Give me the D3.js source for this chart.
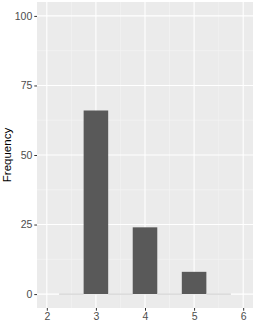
<!DOCTYPE html>
<html><head><meta charset="utf-8">
<script src="https://cdn.jsdelivr.net/npm/d3@7"></script>
<style>body{margin:0;background:#fff}svg{display:block}text{font-family:"Liberation Sans",Arial,sans-serif}</style>
</head><body>
<script>
const binStarts = [2.25, 2.75, 3.25, 3.75, 4.25, 4.75, 5.25];
const binWidth = 0.5;
const counts = [0, 66, 0, 24, 0, 8, 0];
const xTicks = [2, 3, 4, 5, 6];
const yTicks = [0, 25, 50, 75, 100];
const xMinor = [2.5, 3.5, 4.5, 5.5];
const yMinor = [12.5, 37.5, 62.5, 87.5];

const W = 255, H = 330;
const L = 37, R = 253, T = 2, B = 308;
const svg = d3.select("body").append("svg").attr("width", W).attr("height", H);
const x = d3.scaleLinear().domain([1.8, 6.2]).range([L, R]);
const y = d3.scaleLinear().domain([-5, 105]).range([B, T]);

svg.append("rect").attr("x", L).attr("y", T).attr("width", R - L).attr("height", B - T).attr("fill", "#EBEBEB");
const g = svg.append("g");
g.selectAll(".xmin").data(xMinor).join("line").attr("x1", d => x(d)).attr("x2", d => x(d)).attr("y1", T).attr("y2", B).attr("stroke", "#F5F5F5").attr("stroke-width", 0.6);
g.selectAll(".ymin").data(yMinor).join("line").attr("y1", d => y(d)).attr("y2", d => y(d)).attr("x1", L).attr("x2", R).attr("stroke", "#F5F5F5").attr("stroke-width", 0.6);
g.selectAll(".xmaj").data(xTicks).join("line").attr("x1", d => x(d)).attr("x2", d => x(d)).attr("y1", T).attr("y2", B).attr("stroke", "#fff").attr("stroke-width", 1.1);
g.selectAll(".ymaj").data(yTicks).join("line").attr("y1", d => y(d)).attr("y2", d => y(d)).attr("x1", L).attr("x2", R).attr("stroke", "#fff").attr("stroke-width", 1.1);

// bars
const bins = binStarts.map((s, i) => ({s, c: counts[i]}));
svg.append("g").selectAll("rect").data(bins).join("rect")
  .attr("x", d => x(d.s)).attr("width", d => x(d.s + binWidth) - x(d.s))
  .attr("y", d => d.c > 0 ? y(d.c) : y(0) - 0.5)
  .attr("height", d => d.c > 0 ? y(0) - y(d.c) : 1)
  .attr("fill", d => d.c > 0 ? "#595959" : "#C8C8C8");

// axes
const xa = svg.append("g").attr("transform", `translate(0,${B})`)
  .call(d3.axisBottom(x).tickValues(xTicks).tickSize(2.7).tickPadding(2).tickFormat(d3.format("d")));
const ya = svg.append("g").attr("transform", `translate(${L},0)`)
  .call(d3.axisLeft(y).tickValues(yTicks).tickSize(2.7).tickPadding(2).tickFormat(d3.format("d")));
[xa, ya].forEach(a => {
  a.select(".domain").remove();
  a.selectAll(".tick line").attr("stroke", "#333333").attr("stroke-width", 1);
  a.selectAll(".tick text").attr("fill", "#4D4D4D").style("font-size", "10.5px").style("font-family", '"Liberation Sans",Arial,sans-serif');
});

svg.append("text").attr("transform", `translate(11,${(T + B) / 2}) rotate(-90)`)
  .attr("text-anchor", "middle").style("font-size", "11.5px").attr("fill", "#000").text("Frequency");
</script>
</body></html>
